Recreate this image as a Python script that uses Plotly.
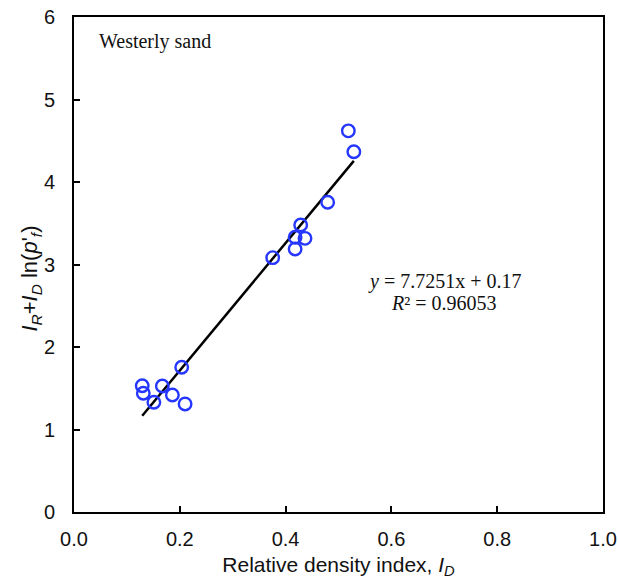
import plotly.graph_objects as go

relative_density = [0.2036, 0.129, 0.131, 0.167, 0.186, 0.151, 0.210,
                    0.5186, 0.529, 0.4795, 0.4285, 0.418, 0.4367, 0.418, 0.3756]
index_values = [1.754, 1.53, 1.44, 1.527, 1.418, 1.33, 1.31,
                4.62, 4.367, 3.754, 3.479, 3.33, 3.317, 3.188, 3.083]

slope = 7.7251
intercept = 0.17
fit_x = [min(relative_density), max(relative_density)]
fit_y = [slope * v + intercept for v in fit_x]

x_ticks = [0.0, 0.2, 0.4, 0.6, 0.8, 1.0]
x_tick_labels = ["0.0", "0.2", "0.4", "0.6", "0.8", "1.0"]
y_ticks = [0, 1, 2, 3, 4, 5, 6]

fig = go.Figure()
fig.add_trace(go.Scatter(
    x=fit_x, y=fit_y, mode="lines",
    line=dict(color="black", width=2.5), showlegend=False, hoverinfo="skip"))
fig.add_trace(go.Scatter(
    x=relative_density, y=index_values, mode="markers",
    marker=dict(symbol="circle-open", size=12.5, color="#2436ff",
                line=dict(width=2.4, color="#2436ff")),
    showlegend=False))

axis_common = dict(
    showgrid=False, zeroline=False, showline=True, linecolor="black",
    linewidth=2, mirror=True, ticks="inside", ticklen=6, tickwidth=2,
    tickcolor="black", automargin=False,
    tickfont=dict(family="Liberation Sans, Arial", size=20, color="#111111"))

fig.update_xaxes(range=[0, 1], tickvals=x_ticks, ticktext=x_tick_labels,
                 ticklabelstandoff=8,
                 title=dict(text="Relative density index, <i>I</i><sub><i>D</i></sub>",
                            font=dict(family="Liberation Sans, Arial", size=21, color="#111111"),
                            standoff=8),
                 **axis_common)
fig.update_yaxes(range=[0, 6], tickvals=y_ticks,
                 ticklabelstandoff=13,
                 **axis_common)

fig.add_annotation(x=0, y=2.83, xref="paper", yref="y",
                   text="<i>I</i><sub><i>R</i></sub>+<i>I</i><sub><i>D</i></sub> ln(<i>p</i>'<sub><i>f</i></sub>)",
                   textangle=-90, showarrow=False, xanchor="center", yanchor="middle",
                   xshift=-43,
                   font=dict(family="Liberation Sans, Arial", size=22, color="#111111"))
fig.add_annotation(x=0.043, y=5.70, xref="x", yref="y", text="Westerly sand",
                   showarrow=False, xanchor="left", yanchor="middle",
                   font=dict(family="Liberation Serif, Times New Roman", size=20, color="#111111"))
fig.add_annotation(x=0.70, y=2.80, xref="x", yref="y",
                   text="<i>y</i> = 7.7251x + 0.17",
                   showarrow=False, xanchor="center", yanchor="middle",
                   font=dict(family="Liberation Serif, Times New Roman", size=20, color="#111111"))
fig.add_annotation(x=0.70, y=2.53, xref="x", yref="y",
                   text="<i>R</i>² = 0.96053",
                   showarrow=False, xanchor="center", yanchor="middle",
                   font=dict(family="Liberation Serif, Times New Roman", size=20, color="#111111"))

fig.update_layout(
    width=618, height=580,
    margin=dict(l=74, r=15, t=17, b=68),
    paper_bgcolor="white", plot_bgcolor="white")

fig.write_html("out.html", config={"displayModeBar": False},
               post_script="document.body.style.margin='0px';document.body.style.overflow='hidden';")
